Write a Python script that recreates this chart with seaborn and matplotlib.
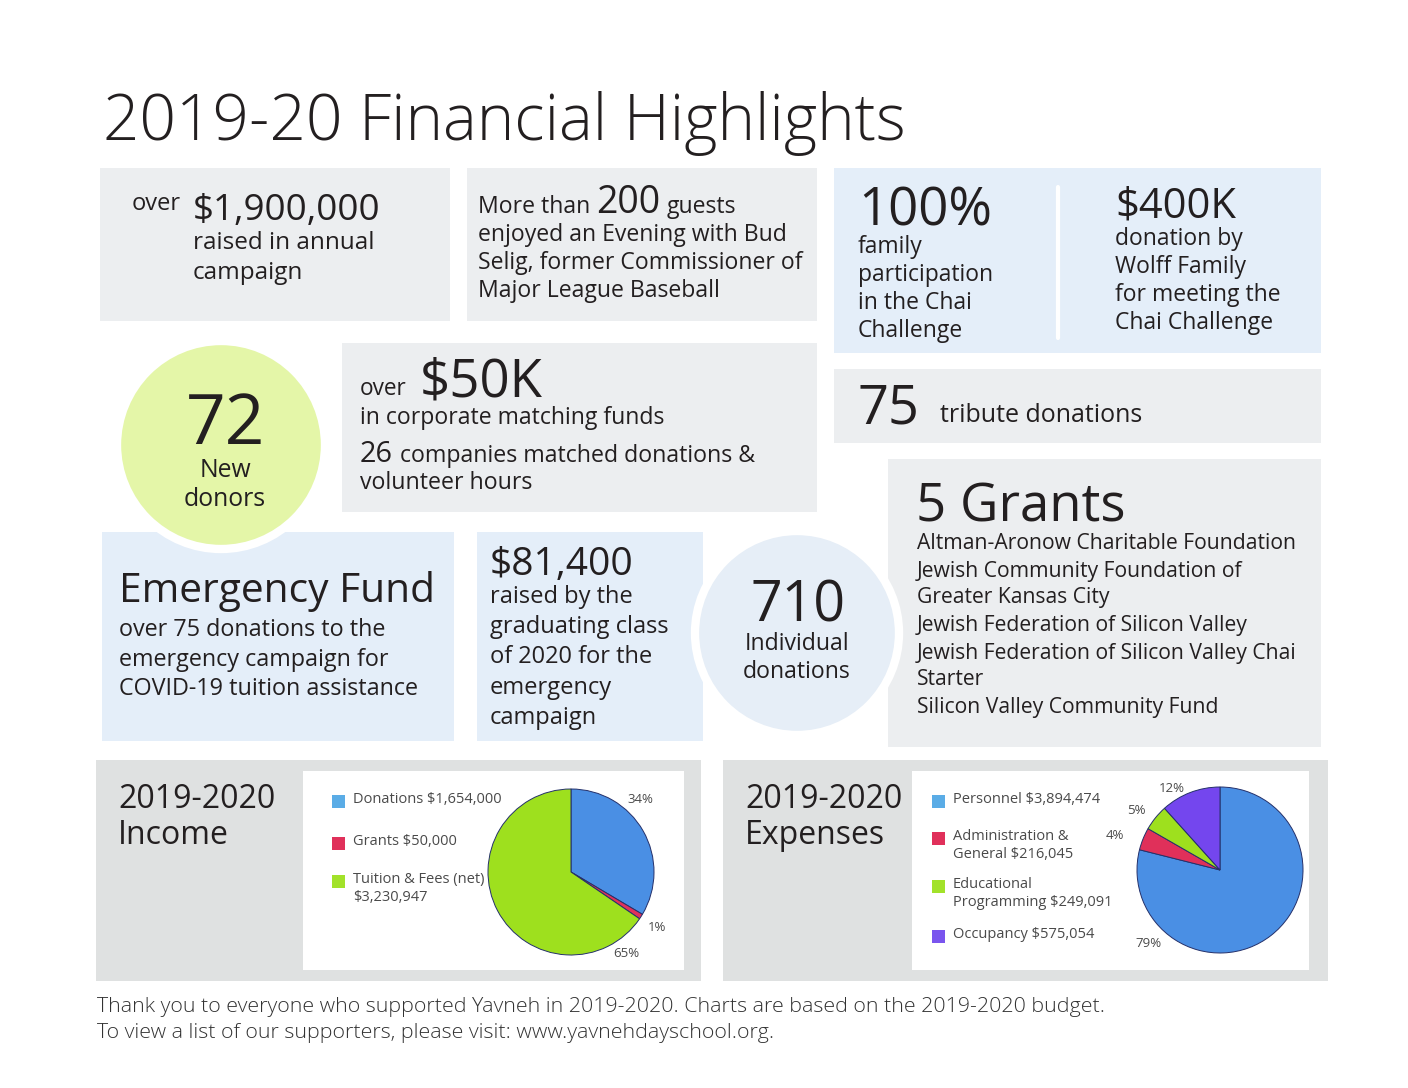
import matplotlib
matplotlib.use("Agg")
import matplotlib.pyplot as plt
from matplotlib.patches import Rectangle, Circle
import seaborn as sns

# Pie chart data
income_labels = ["Donations $1,654,000", "Grants $50,000", "Tuition & Fees (net)\n$3,230,947"]
income_values = [1654000, 50000, 3230947]
expense_labels = ["Personnel $3,894,474", "Administration &\nGeneral $216,045",
                  "Educational\nProgramming $249,091", "Occupancy $575,054"]
expense_values = [3894474, 216045, 249091, 575054]

grant_names = ["Altman-Aronow Charitable Foundation",
               "Jewish Community Foundation of\nGreater Kansas City",
               "Jewish Federation of Silicon Valley",
               "Jewish Federation of Silicon Valley Chai\nStarter",
               "Silicon Valley Community Fund"]

sns.set_theme(style="white")
plt.rcParams["font.family"] = ["Open Sans", "DejaVu Sans"]

TXT = "#231f20"
GREY = "#eceef0"
BLUE = "#e4eef9"
PANEL = "#dfe1e1"
pie_colors = ["#4a8fe4", "#e0305a", "#9ee01e", "#7446ee"]
leg_colors = ["#5aace6", "#e0305a", "#a2e22a", "#7a55ee"]

fig = plt.figure(figsize=(14.08, 10.88), dpi=100)
ax = fig.add_axes([0, 0, 1, 1])
ax.set_xlim(0, 1408)
ax.set_ylim(1088, 0)
ax.axis("off")


def box(x0, y0, x1, y1, color, z=1):
    ax.add_patch(Rectangle((x0, y0), x1 - x0, y1 - y0, facecolor=color, edgecolor="none", zorder=z))


def t(x, y, s, size, ha="left", va="baseline", color=TXT, weight="normal", ls=1.2, z=5):
    ax.text(x, y, s, fontsize=size, ha=ha, va=va, color=color, fontweight=weight,
            linespacing=ls, zorder=z)


# Title
t(103, 140, "2019-20 Financial Highlights", 46, weight="light")

# top row boxes
box(100, 168, 450, 321, GREY)
t(132, 210, "over", 17)
t(193, 220, "$1,900,000", 26.5)
t(193, 249, "raised in annual", 17.5)
t(193, 279, "campaign", 17.5)

box(467, 168, 817, 321, GREY)
t(478, 213, "More than", 16.6)
t(596, 213, "200", 27)
t(667, 213, "guests", 16.6)
t(478, 241, "enjoyed an Evening with Bud", 16.6)
t(478, 269, "Selig, former Commissioner of", 16.6)
t(478, 297, "Major League Baseball", 16.6)

box(834, 168, 1321, 353, BLUE)
ax.plot([1058, 1058], [187, 338], color="white", lw=3, zorder=3)
t(858, 226, "100%", 38)
for i, s in enumerate(["family", "participation", "in the Chai", "Challenge"]):
    t(858, 253 + 28 * i, s, 16.5)
t(1115, 218, "$400K", 30)
for i, s in enumerate(["donation by", "Wolff Family", "for meeting the", "Chai Challenge"]):
    t(1115, 245 + 28 * i, s, 16.5)

box(834, 369, 1321, 443, GREY)
t(858, 424, "75", 39)
t(940, 422, "tribute donations", 18)

# middle
box(342, 343, 817, 512, GREY)
t(360, 395, "over", 16.3)
t(420, 396, "$50K", 38)
t(360, 424, "in corporate matching funds", 16.6)
t(360, 462, "26", 20.8)
t(400, 462, "companies matched donations &", 16.7)
t(360, 489, "volunteer hours", 16.7)

box(102, 532, 454, 741, BLUE)
t(119, 602, "Emergency Fund", 29.3)
for i, s in enumerate(["over 75 donations to the", "emergency campaign for",
                       "COVID-19 tuition assistance"]):
    t(119, 636 + 29.5 * i, s, 16.8)

box(477, 532, 703, 741, BLUE)
t(490, 575, "$81,400", 28)
for i, s in enumerate(["raised by the", "graduating class", "of 2020 for the",
                       "emergency", "campaign"]):
    t(490, 603 + 30.2 * i, s, 17)

box(888, 459, 1321, 747, GREY)
t(916, 521, "5 Grants", 38)
yy = 549
for g in grant_names:
    for j, line in enumerate(g.split("\n")):
        if j > 0:
            yy += 26
        t(917, yy, line, 15.2)
    yy += 28

# circles
ax.add_patch(Circle((221, 445), 104, facecolor="#e4f6a8", edgecolor="white", lw=6, zorder=4))
t(226, 444, "72", 50, ha="center")
t(225, 477, "New", 17.8, ha="center")
t(225, 506, "donors", 17.8, ha="center")

ax.add_patch(Circle((797, 633), 102, facecolor="#e6eef7", edgecolor="white", lw=6, zorder=4))
t(798, 622, "710", 40, ha="center")
t(797, 650, "Individual", 16.6, ha="center")
t(797, 678, "donations", 16.6, ha="center")

# bottom panels
box(96, 760, 701, 981, PANEL)
box(303, 771, 684, 970, "white", z=2)
t(118, 808, "2019-2020", 23)
t(118, 844, "Income", 23)

box(723, 760, 1328, 981, PANEL)
box(912, 771, 1309, 970, "white", z=2)
t(745, 808, "2019-2020", 23)
t(745, 844, "Expenses", 23)


def legend(x, ys, labels, colors):
    for y, lab, c in zip(ys, labels, colors):
        ax.add_patch(Rectangle((x, y - 6.5), 13, 13, facecolor=c, edgecolor="none", zorder=4))
        t(x + 21, y - 9, lab, 10.5, va="top", color="#4a4a4a", ls=1.28)


legend(332, [801, 843, 881], income_labels, leg_colors[:3])
legend(932, [801, 838, 886, 936], expense_labels, leg_colors)


def pie(cx, cy, values, colors, label_pos):
    r = 83
    half = 1.3 * r
    pax = fig.add_axes([(cx - half) / 1408, (1088 - cy - half) / 1088, 2 * half / 1408, 2 * half / 1088])
    wedges, _, autotexts = pax.pie(values, colors=colors, startangle=90, counterclock=False,
                                   autopct="%.0f%%", pctdistance=1.2,
                                   wedgeprops=dict(edgecolor="#24306a", linewidth=0.7),
                                   textprops=dict(fontsize=9.5, color="#4a4a4a"))
    for a, p in zip(autotexts, label_pos):
        a.set_position(p)
    pax.set_xlim(-1.3, 1.3)
    pax.set_ylim(-1.3, 1.3)
    pax.set_aspect("equal")
    pax.axis("off")


pie(571, 872, income_values, pie_colors[:3], [(0.83, 0.87), (1.04, -0.67), (0.67, -0.98)])
pie(1220, 870, expense_values, pie_colors, [(-0.86, -0.88), (-1.27, 0.41), (-1.01, 0.72), (-0.58, 0.98)])

# footer
t(97, 1012, "Thank you to everyone who supported Yavneh in 2019-2020. Charts are based on the 2019-2020 budget.",
  15.4, weight="light", color="#333333")
t(97, 1038, "To view a list of our supporters, please visit: www.yavnehdayschool.org.",
  15.4, weight="light", color="#333333")

fig.savefig("out.png", dpi=100)
